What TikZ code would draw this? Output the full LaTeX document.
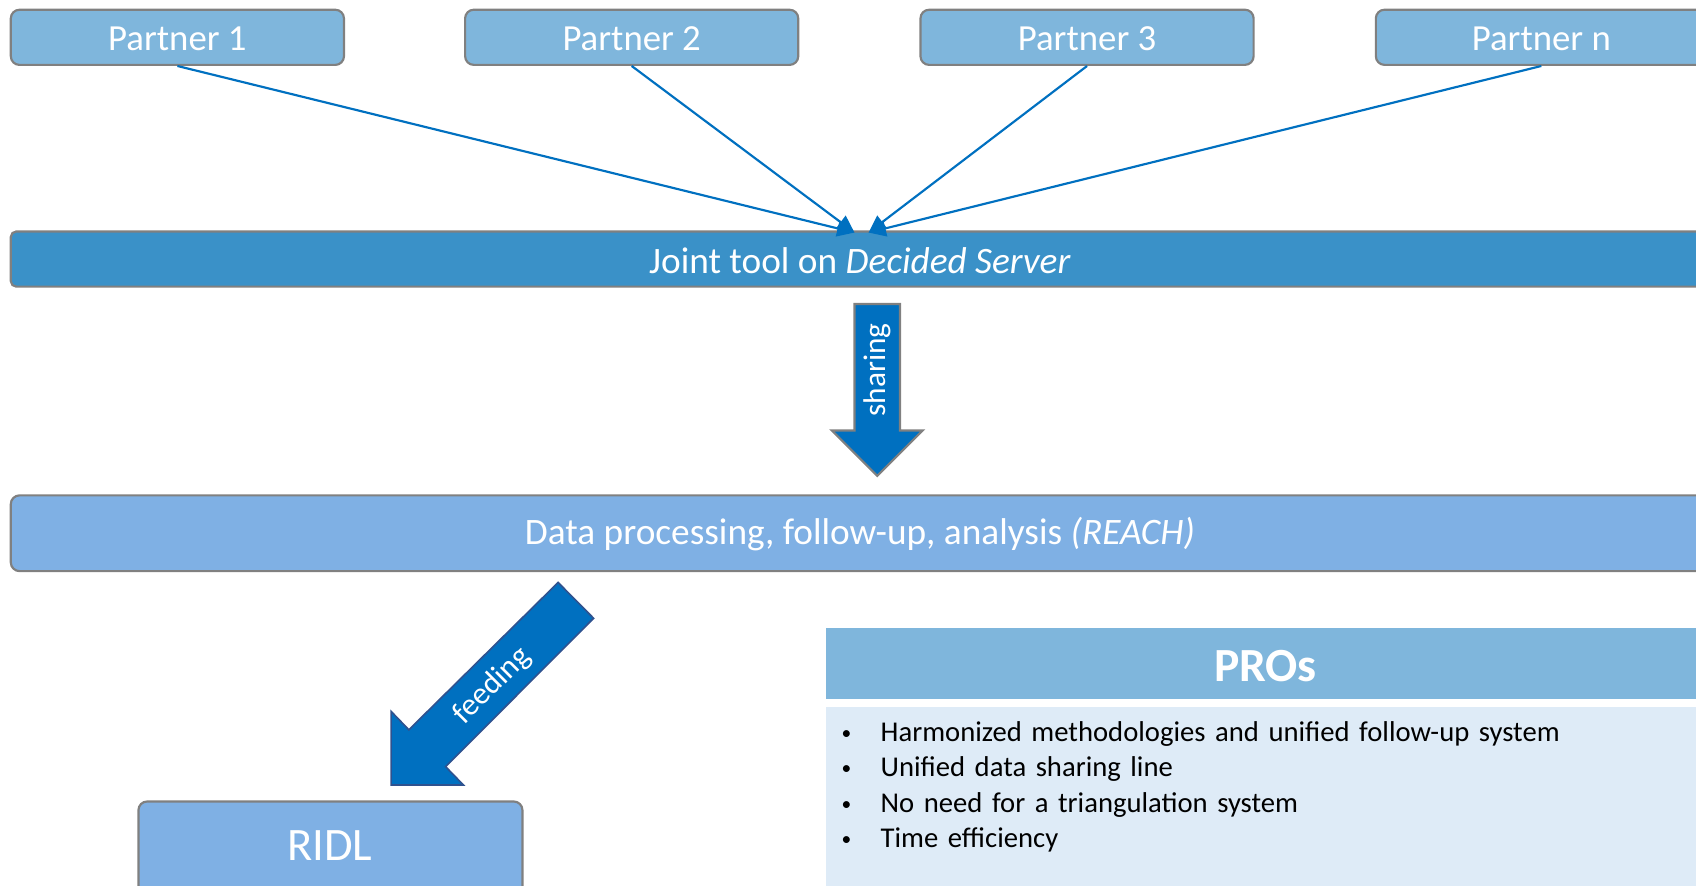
\documentclass[tikz,border=0pt]{standalone}
\usepackage{fontspec}
\setmainfont{Carlito}
\usetikzlibrary{arrows.meta}
\definecolor{partnerfill}{RGB}{127,182,220}
\definecolor{jointfill}{RGB}{58,145,200}
\definecolor{datafill}{RGB}{127,176,228}
\definecolor{bodyfill}{RGB}{222,235,247}
\definecolor{linkblue}{RGB}{0,112,192}
\definecolor{edgegray}{RGB}{128,128,128}
\definecolor{arrowedge}{RGB}{47,82,143}
\newcommand{\mybul}{\makebox[36pt][l]{\raisebox{2pt}{\fontsize{18}{20}\selectfont\textbullet}}}
\begin{document}
\begin{tikzpicture}[x=1pt,y=-1pt,
  boxstyle/.style={draw=edgegray,line width=2pt,rounded corners=8pt},
  partnerbox/.style={boxstyle,fill=partnerfill},
  txt/.style={text=white,inner sep=0pt,anchor=center},
  link/.style={draw=linkblue,line width=2pt,-{Triangle[length=16pt,width=15pt]}},
  blockarrow/.style={fill=linkblue,line width=2pt}]
\useasboundingbox (0,0) rectangle (1568,819);
\clip (0,0) rectangle (1568,819);
% partners
\draw[partnerbox] (10,9) rectangle (318,60);
\draw[partnerbox] (430,9) rectangle (738,60);
\draw[partnerbox] (851,9) rectangle (1159,60);
\draw[partnerbox] (1272,9) rectangle (1600,60);
\node[txt,font=\fontsize{34}{40}\selectfont] (p1) at (164,36) {Partner 1};
\node[txt,font=\fontsize{34}{40}\selectfont] (p2) at (584,36) {Partner 2};
\node[txt,font=\fontsize{34}{40}\selectfont] (p3) at (1005,36) {Partner 3};
\node[txt,font=\fontsize{34}{40}\selectfont] (pn) at (1425,36) {Partner n};
\coordinate (b1) at (164,61);
\coordinate (b2) at (584,61);
\coordinate (b3) at (1005,61);
\coordinate (bn) at (1425,61);
% joint bar
\draw[boxstyle,fill=jointfill,rounded corners=5pt] (10,214) rectangle (1600,265);
\node[txt,font=\fontsize{34.5}{40}\selectfont] (joint) at (795,241) {Joint tool on \textit{Decided Server}};
\coordinate (t1) at (790,215);
\coordinate (t2) at (803,215);
\draw[link] (b1) -- (t1);
\draw[link] (b2) -- (t1);
\draw[link] (b3) -- (t2);
\draw[link] (bn) -- (t2);
% sharing arrow
\draw[blockarrow,draw=edgegray] (790,281) -- (832,281) -- (832,398) -- (853,398) -- (811,440) -- (769,398) -- (790,398) -- cycle;
\node[txt,rotate=90,font=\fontsize{29}{34}\selectfont] (share) at (811,342) {sharing};
% data bar
\draw[boxstyle,fill=datafill] (10,458) rectangle (1600,528);
\node[txt,font=\fontsize{34.5}{40}\selectfont] (data) at (795,494) {Data processing, follow-up, analysis \textit{(REACH)}};
% feeding arrow
\draw[blockarrow,draw=arrowedge,line width=1.5pt] (516,538.5) -- (548.8,571.6) -- (412,708.8) -- (428.5,725.8) -- (361.6,725.8) -- (361.6,657.7) -- (378,674.7) -- cycle;
\node[txt,rotate=45,font=\fontsize{29}{34}\selectfont] (feed) at (455,634) {feeding};
% RIDL
\draw[boxstyle,fill=datafill] (128,741) rectangle (483,829);
\node[txt,font=\fontsize{43}{50}\selectfont] (ridl) at (305,782) {RIDL};
% PROs panel
\fill[partnerfill] (764,581) rectangle (1600,646);
\node[txt,font=\bfseries\fontsize{44}{50}\selectfont] (pros) at (1170,616) {PROs};
\fill[bodyfill] (764,654) rectangle (1600,830);
\node[anchor=north west,inner sep=0pt,text width=780pt,font=\fontsize{26.5}{32.7}\selectfont] (list) at (778,667) {%
\mybul Harmonized methodologies and unified follow-up system\\
\mybul Unified data sharing line\\
\mybul No need for a triangulation system\\
\mybul Time efficiency};
\end{tikzpicture}
\end{document}
